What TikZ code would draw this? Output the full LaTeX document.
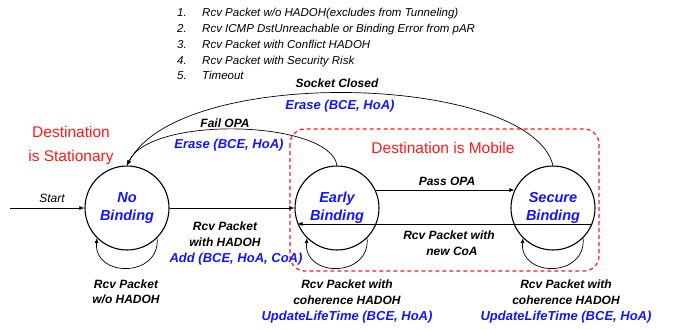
\documentclass[tikz,border=0pt]{standalone}
\usepackage{fontspec}
\setmainfont{Liberation Sans}
\usetikzlibrary{arrows.meta}
\definecolor{actblue}{RGB}{20,20,255}
\definecolor{notered}{RGB}{255,25,25}
\tikzset{
  fsm/.style={circle, draw, line width=1.1pt, minimum size=84pt, inner sep=0pt,
    text=actblue, align=center, font=\fontsize{14.5}{18}\selectfont\bfseries\itshape},
  trans/.style={line width=0.7pt, -{Latex[length=5pt,width=4pt]}},
  lbl/.style={align=center, inner sep=0pt, font=\fontsize{12}{15.5}\selectfont\bfseries\itshape},
  act/.style={align=center, inner sep=0pt, text=actblue, font=\fontsize{13}{15.5}\selectfont\bfseries\itshape},
  region/.style={text=notered, align=center, inner sep=0pt, font=\fontsize{15.5}{24}\selectfont},
  listitem/.style={anchor=base west, inner sep=0pt, font=\fontsize{11.5}{14}\selectfont\itshape},
}
\begin{document}
\begin{tikzpicture}[x=1pt, y=-1pt]
\useasboundingbox (0,0) rectangle (680,329);

% condition list
\foreach \n/\t [count=\i from 0] in {1/{Rcv Packet w/o HADOH(excludes from Tunneling)},
    2/{Rcv ICMP DstUnreachable or Binding Error from pAR},
    3/{Rcv Packet with Conflict HADOH},
    4/{Rcv Packet with Security Risk},
    5/{Timeout}} {
  \node[listitem] (num\n) at (177, 17+15.7*\i) {\n.};
  \node[listitem] (item\n) at (202, 17+15.7*\i) {\t};
}

% mobile region
\draw[notered, line width=1.2pt, dash pattern=on 4pt off 3pt, rounded corners=15pt]
  (290,129) rectangle (599,271);
\node[region] (mobile) at (443,148) {Destination is Mobile};
\node[region] (stationary) at (71,145) {Destination\\is Stationary};

% states
\node[fsm] (nb) at (127,208) {No\\Binding};
\node[fsm] (eb) at (337,208) {Early\\Binding};
\node[fsm] (sb) at (553,208) {Secure\\Binding};

% start
\coordinate (s0) at (10,208);
\draw[trans] (s0) -- (nb.west);
\node[lbl, font=\fontsize{12}{14}\selectfont\itshape] (startlbl) at (52,198) {Start};

% no binding -> early binding
\draw[trans] (nb.east) -- (eb.west);
\node[lbl] (rcvh) at (225,234) {Rcv Packet\\with HADOH};
\node[act] (add) at (236,259) {Add (BCE, HoA, CoA)};

% early <-> secure
\draw[trans] (eb.25) -- (sb.155);
\node[lbl] (pass) at (447,181) {Pass OPA};
\draw[trans] (sb.-22) -- (eb.-158);
\node[lbl] (newcoa) at (449,243) {Rcv Packet with\\\hspace*{6pt}new CoA};

% erase transitions back to no binding
\draw[trans] (sb.north) .. controls (530,74) and (180,64) .. (nb.north);
\node[lbl] (sock) at (337,83) {Socket Closed};
\node[act] (erase1) at (340,106) {Erase (BCE, HoA)};
\draw[trans] (eb.north) .. controls (330,120) and (150,115) .. (nb.north);
\node[lbl] (fail) at (225,123) {Fail OPA};
\node[act] (erase2) at (229,145) {Erase (BCE, HoA)};

% self loops
\foreach \s in {nb, eb, sb}
  \draw[trans] (\s.-45) .. controls +(-85:40pt) and +(-95:40pt) .. (\s.-135);
\node[lbl] (loopnb) at (126,292) {Rcv Packet\\w/o HADOH};
\node[lbl] (loopeb) at (347,292) {Rcv Packet with\\coherence HADOH};
\node[act] (updeb) at (347,317) {UpdateLifeTime (BCE, HoA)};
\node[lbl] (loopsb) at (566,292) {Rcv Packet with\\coherence HADOH};
\node[act] (updsb) at (566,317) {UpdateLifeTime (BCE, HoA)};
\end{tikzpicture}
\end{document}
